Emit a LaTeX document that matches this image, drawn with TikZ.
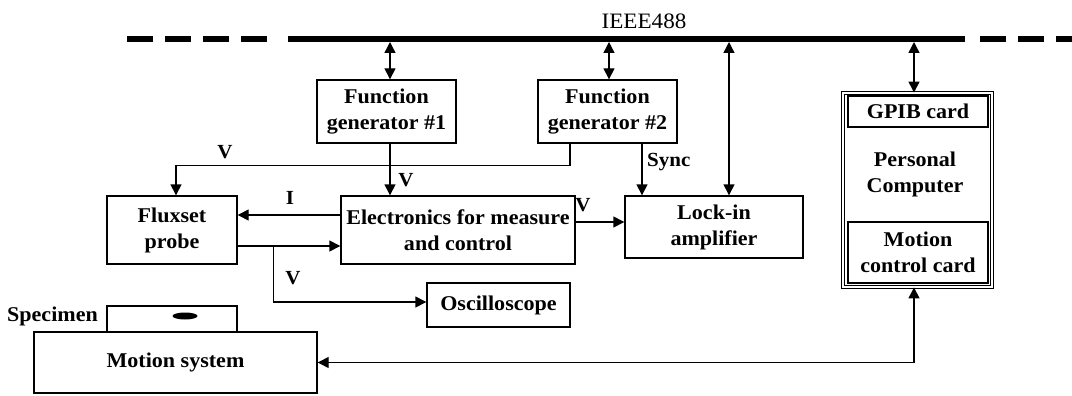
\documentclass[tikz,border=0pt]{standalone}
\usepackage{fontspec}
\setmainfont{Liberation Serif}[FakeStretch=1.05]
\usetikzlibrary{arrows.meta}
\tikzset{
  box/.style={draw, line width=1.4pt, align=center, inner sep=0pt,
    font=\bfseries\fontsize{21}{26}\selectfont},
  lbl/.style={inner sep=0pt, font=\bfseries\fontsize{20}{22}\selectfont},
  arr/.style={line width=1.4pt, -{Triangle[length=11pt,width=11pt]}},
  dbl/.style={line width=1.4pt, {Triangle[length=11pt,width=11pt]}-{Triangle[length=11pt,width=11pt]}},
  bus/.style={line width=6pt},
  pcbox/.style={draw, line width=0.9pt, double=white, double distance=1.8pt, inner sep=0pt}
}
\begin{document}
\begin{tikzpicture}[x=1pt,y=-1pt]
\useasboundingbox (0,0) rectangle (1072,396);

% bus
\coordinate (busL) at (288,39);
\coordinate (busR) at (965,39);
\draw[bus] (busL) -- (busR);
\draw[bus, dash pattern=on 26pt off 12pt] (127,39) -- (268,39);
\draw[bus, dash pattern=on 26pt off 12pt] (980,39) -- (1072,39);
\node[inner sep=0pt, font=\fontsize{22}{24}\selectfont] (ieee) at (644,21) {IEEE488};

% boxes
\node[box, minimum width=139, minimum height=63] (fg1) at (386.5,111.5) {Function\\generator \#1};
\node[box, minimum width=139, minimum height=63] (fg2) at (607.5,111.5) {Function\\generator \#2};
\node[box, minimum width=178, minimum height=62] (lock) at (714,227) {Lock-in\\amplifier};
\node[box, minimum width=130, minimum height=68] (flux) at (172,230) {Fluxset\\probe};
\node[box, minimum width=234, minimum height=68] (elec) at (458,230) {Electronics for measure\\and control};
\node[box, minimum width=143, minimum height=44] (osc) at (498.5,305) {Oscilloscope};
\node[box, minimum width=130, minimum height=26] (spec) at (172,319) {};
\node[box, minimum width=283, minimum height=61] (motion) at (175.5,362.5) {Motion system};
\node[pcbox, minimum width=149, minimum height=194] (pc) at (917.5,190) {};
\node[box, minimum width=140, minimum height=31] (gpib) at (918,111.5) {GPIB card};
\node[box, minimum width=140, minimum height=61] (mcc) at (918,252.5) {Motion\\control card};
\node[box, draw=none] (pctext) at (915,174) {Personal\\Computer};
\node[lbl, anchor=east, font=\bfseries\fontsize{21}{24}\selectfont] (speclbl) at (98,316) {Specimen};
\fill (185,316) ellipse [x radius=12.5, y radius=3.5];

% bus connections
\draw[dbl, shorten <=3pt] ([xshift=3.5pt]fg1.north |- busL) -- ([xshift=3.5pt]fg1.north);
\draw[dbl, shorten <=3pt] ([xshift=1.5pt]fg2.north |- busL) -- ([xshift=1.5pt]fg2.north);
\draw[dbl, shorten <=3pt] ([xshift=15pt]lock.north |- busL) -- ([xshift=15pt]lock.north);
\draw[dbl, shorten <=3pt] ([xshift=-3.5pt]pc.north |- busL) -- ([xshift=-3.5pt]pc.north);

% signal connections
\draw[arr] ([xshift=3.5pt]fg1.south) -- ([xshift=3.5pt]fg1.south |- elec.north);
\draw[arr] ([xshift=-37.5pt]fg2.south) -- ++(0,22) -| ([xshift=4pt]flux.north);
\draw[arr] ([xshift=34.5pt]fg2.south) -- ([xshift=34.5pt]fg2.south |- lock.north);
\draw[arr] ([yshift=15pt]elec.west) -- ([yshift=15pt]elec.west -| flux.east);
\draw[arr] ([yshift=-16pt]flux.east) -- ([yshift=-16pt]flux.east -| elec.west);
\coordinate (br) at ([xshift=36pt,yshift=-16pt]flux.east);
\draw[arr] (br) |- ([yshift=3pt]osc.west);
\draw[arr] ([yshift=8pt]elec.east) -- ([yshift=8pt]elec.east -| lock.west);
\draw[dbl] ([xshift=-3.5pt]pc.south) |- (motion.east);

% labels
\node[lbl] (v1) at (225,152) {V};
\node[lbl] (v2) at (406,180) {V};
\node[lbl, anchor=west] (sync) at (647,162) {Sync};
\node[lbl] (il) at (290,198) {I};
\node[lbl] (v3) at (293,278) {V};
\node[lbl] (v4) at (583,205) {V};
\end{tikzpicture}
\end{document}
